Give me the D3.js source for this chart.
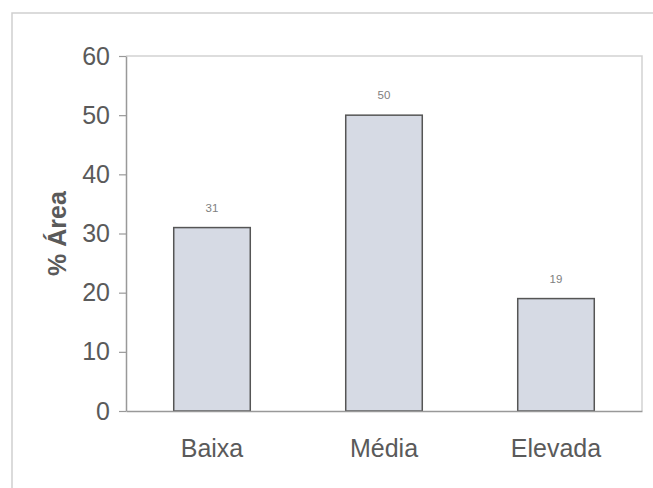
<!DOCTYPE html>
<html>
<head>
<meta charset="utf-8">
<script src="https://cdn.jsdelivr.net/npm/d3@7"></script>
<style>
  html, body { margin: 0; padding: 0; background: #fff; }
  svg { display: block; font-family: Arial, "Liberation Sans", sans-serif; }
</style>
</head>
<body>
<svg id="chart" width="653" height="488"></svg>
<script>
// Share of area by class
const categories = ["Baixa", "Média", "Elevada"];
const values = [31, 50, 19];
const valueLabels = ["31", "50", "19"];
const yTicks = [0, 10, 20, 30, 40, 50, 60];
const yTitle = "% Área";

const svg = d3.select("#chart");
const W = 653, H = 488;
const plot = { left: 126, right: 642, top: 56, bottom: 411 };

// outer frame of the chart
svg.append("rect")
  .attr("x", 12).attr("y", 13)
  .attr("width", W + 10).attr("height", H + 10)
  .attr("fill", "none").attr("stroke", "#cfcfcf").attr("stroke-width", 1.5);

const x = d3.scaleBand()
  .domain(categories)
  .range([plot.left, plot.right])
  .paddingInner(0.555).paddingOuter(0.2775);

const y = d3.scaleLinear().domain([0, 60]).range([plot.bottom, plot.top]);

// plot area border (top and right)
svg.append("path")
  .attr("d", `M${plot.left},${plot.top}H${plot.right}V${plot.bottom}`)
  .attr("fill", "none").attr("stroke", "#d2d2d2").attr("stroke-width", 1.5);

// bars
svg.append("g").selectAll("rect").data(values).join("rect")
  .attr("x", (d, i) => x(categories[i]))
  .attr("y", d => y(d))
  .attr("width", x.bandwidth())
  .attr("height", d => y(0) - y(d))
  .attr("fill", "#d6dae4")
  .attr("stroke", "#555")
  .attr("stroke-width", 1.5);

// value labels above bars
svg.append("g").selectAll("text").data(values).join("text")
  .attr("x", (d, i) => x(categories[i]) + x.bandwidth() / 2)
  .attr("y", d => y(d) - 16)
  .attr("text-anchor", "middle")
  .attr("font-size", 11.5)
  .attr("fill", "#808080")
  .text((d, i) => valueLabels[i]);

// y axis
const yAxis = svg.append("g")
  .attr("transform", `translate(${plot.left},0)`)
  .call(d3.axisLeft(y).tickValues(yTicks).tickSize(7).tickPadding(9).tickSizeOuter(0));
yAxis.select(".domain").attr("stroke", "#999").attr("stroke-width", 1.5);
yAxis.selectAll(".tick line").attr("stroke", "#999").attr("stroke-width", 1.2);
yAxis.selectAll(".tick text")
  .attr("font-size", 25).attr("fill", "#5a5a5a")
  .attr("font-family", "Arial, 'Liberation Sans', sans-serif");

// x axis
const xAxis = svg.append("g")
  .attr("transform", `translate(0,${plot.bottom})`)
  .call(d3.axisBottom(x).tickSize(0).tickPadding(28).tickSizeOuter(0));
xAxis.select(".domain").attr("stroke", "#999").attr("stroke-width", 1.5);
xAxis.selectAll(".tick text")
  .attr("font-size", 25).attr("fill", "#5a5a5a")
  .attr("font-family", "Arial, 'Liberation Sans', sans-serif");

// y axis title
svg.append("text")
  .attr("transform", `translate(66,${(plot.top + plot.bottom) / 2}) rotate(-90)`)
  .attr("text-anchor", "middle")
  .attr("font-size", 25)
  .attr("font-weight", "bold")
  .attr("fill", "#5a5a5a")
  .text(yTitle);
</script>
</body>
</html>
